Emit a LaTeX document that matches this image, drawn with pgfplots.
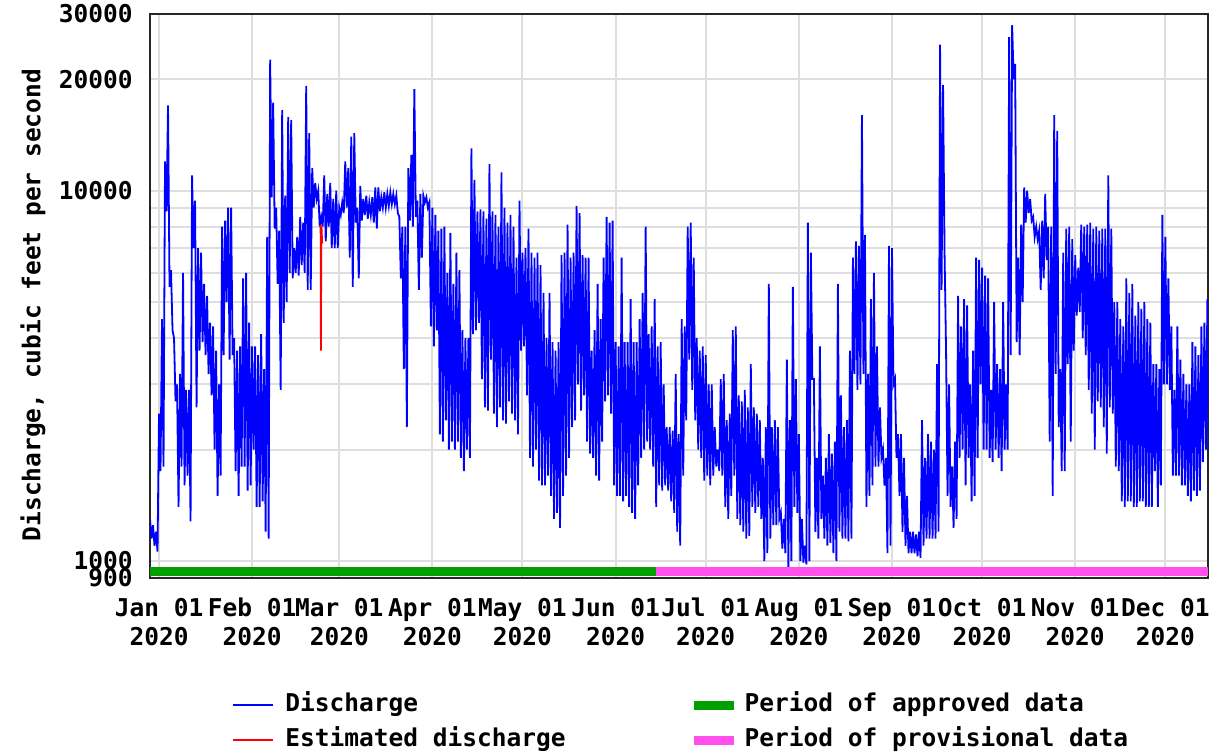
\documentclass[border=0pt]{standalone}
\usepackage{pgfplots}
\pgfplotsset{compat=1.18}
\usepackage{fontspec}
\newfontfamily\chartfont{DejaVu Sans Mono}
\newcommand{\cf}{\chartfont\bfseries\fontsize{12.25pt}{14.5pt}\selectfont}
\definecolor{qblue}{RGB}{0,0,255}
\definecolor{qred}{RGB}{255,0,0}
\definecolor{qgreen}{RGB}{0,160,0}
\definecolor{qmag}{RGB}{255,80,235}
\definecolor{qgrid}{RGB}{222,222,222}
\pgfplotsset{barlegend/.style={legend image code/.code={\fill[##1, draw=none] (0pt,-2.125pt) rectangle (20pt,2.125pt);}}}
\begin{document}
\begin{tikzpicture}
\useasboundingbox (0,0) rectangle (615pt,-376pt);
\begin{axis}[
  at={(75pt,-289pt)}, anchor=south west,
  scale only axis, width=529pt, height=282pt,
  ymode=log, xmin=-3, xmax=349.2, ymin=900, ymax=30000,
  xtick={0,31,60,91,121,152,182,213,244,274,305,335},
  xticklabels={{\strut Jan 01\\\strut 2020},{\strut Feb 01\\\strut 2020},{\strut Mar 01\\\strut 2020},{\strut Apr 01\\\strut 2020},{\strut May 01\\\strut 2020},{\strut Jun 01\\\strut 2020},{\strut Jul 01\\\strut 2020},{\strut Aug 01\\\strut 2020},{\strut Sep 01\\\strut 2020},{\strut Oct 01\\\strut 2020},{\strut Nov 01\\\strut 2020},{\strut Dec 01\\\strut 2020}},
  ytick={900,1000,10000,20000,30000},
  yticklabels={900,1000,10000,20000,30000},
  minor ytick={2000,3000,4000,5000,6000,7000,8000,9000},
  grid=both,
  major grid style={qgrid, line width=1pt},
  minor grid style={qgrid, line width=1pt},
  tick style={draw=none},
  axis line style={black!85, line width=1pt},
  xticklabel style={font=\cf, align=center, inner sep=0pt, anchor=north, yshift=-8.85pt},
  yticklabel style={font=\cf, anchor=east, inner sep=0pt, xshift=-8.5pt},
  ylabel={Discharge, cubic feet per second},
  ylabel style={font=\cf, at={(axis description cs:-0.1106,0.484)}, anchor=center},
  legend columns=2, transpose legend, legend cell align=left,
  legend image code/.code={\draw[#1, line width=1pt] (0pt,0pt) -- (20pt,0pt);},
  legend style={draw=none, fill=none, inner sep=0pt, font=\cf,
    at={(axis description cs:0.0775,-0.2039)}, anchor=north west,
    nodes={inner sep=0pt, text height=9pt, text depth=3pt},
    row sep=5.5pt,
    /tikz/every odd column/.append style={column sep=5.5pt},
    /tikz/every even column/.append style={column sep=64pt}},
]
\addplot[qblue, line width=0.9pt] coordinates {
(-3,1300)(-2.5,1150)(-2,1250)(-1.5,1100)(-1,1200)(-0.5,1060)
(0,2500)(0.5,1750)(1,4500)(1.5,1800)(2,12000)(2.5,8800)(3,17000)(3.5,5500)(4,6100)(4.5,4200)(5,4000)(5.5,2700)(6,3000)(6.5,1400)(7,3200)(7.5,1800)(8,6000)(8.5,1600)(9,2900)(9.5,1700)
(10,2900)(10.5,1280)(11,11000)(11.5,7000)(12,9400)(12.5,2600)(13,7000)(13.5,3700)(14,6800)(14.5,3900)(15,5600)(15.5,3600)(16,5200)(16.5,3200)(17,4400)(17.5,2800)(18,4300)(18.5,2000)(19,3700)(19.5,1500)
(20,3000)(20.5,1700)(21,8000)(21.5,3600)(22,8300)(22.5,5000)(23,9000)(23.5,3500)(24,9000)(24.5,3600)(25,4000)(25.5,1750)(26,3700)(26.5,1500)(27,3800)(27.5,1800)(28,5800)(28.5,1800)(29,6000)(29.5,1550)
(30,4400)(30.5,1600)(31,3800)(31.5,2000)(32,3800)(32.5,1400)(33,3600)(33.5,1400)(34,4100)(34.5,1450)(35,3300)(35.5,1200)(36,7500)(36.5,1150)(37,22600)(37.5,9600)(38,17300)(38.5,7900)(39,9000)(39.5,5600)
(40,7800)(40.5,2900)(41,16500)(41.5,4400)(42,9700)(42.5,5000)(43,15800)(43.5,6000)(44,15500)(44.5,5800)(45,7000)(45.5,6000)(46,7500)(46.5,5900)(47,8500)(47.5,6300)(48,8200)(48.5,6000)(49,19200)(49.5,5400)
(50,14300)(50.5,5400)(51,11500)(51.5,9000)(52,10500)(52.5,9500)(53,10000)(53.5,8000)(54,8500)(54.5,8000)(55,11000)(55.5,7300)(56,9800)(56.5,8000)(57,10500)(57.5,7000)(58,9500)(58.5,7000)(59,10000)(59.5,7000)
(60,9000)(60.5,8600)(61,9300)(61.5,8700)(62,12000)(62.5,9000)(63,11500)(63.5,6600)(64,14000)(64.5,5500)(65,14300)(65.5,8200)(66,9000)(66.5,5800)(67,10300)(67.5,8300)(68,9500)(68.5,8600)(69,9700)(69.5,8400)
(70,9300)(70.5,8600)(71,9600)(71.5,8200)(72,10200)(72.5,7900)(73,10200)(73.5,8800)(74,9600)(74.5,9000)(75,9900)(75.5,9000)(76,9800)(76.5,9100)(77,9900)(77.5,9200)(78,9800)(78.5,9200)(79,9700)(79.5,8700)
(80,8500)(80.5,5800)(81,8000)(81.5,3300)(82,8000)(82.5,2300)(83,11500)(83.5,8300)(84,12500)(84.5,8000)(85,18800)(85.5,8500)(86,9400)(86.5,5400)(87,9800)(87.5,6600)(88,9700)(88.5,9300)(89,9600)(89.5,9000)
(90,9300)(90.5,4300)(91,9000)(91.5,3800)(92,8600)(92.5,4200)(93,7800)(93.5,2200)(94,7900)(94.5,2100)(95,8000)(95.5,2400)(96,6000)(96.5,2000)(97,7700)(97.5,2100)(98,5600)(98.5,2000)(99,6800)(99.5,2100)
(100,6100)(100.5,1900)(101,4200)(101.5,1750)(102,4000)(102.5,2000)(103,4000)(103.5,1900)(104,13000)(104.5,4100)(105,10700)(105.5,4200)(106,8800)(106.5,4400)(107,8900)(107.5,3100)(108,8800)(108.5,2600)(109,8400)(109.5,2550)
(110,11800)(110.5,3500)(111,8800)(111.5,2500)(112,8600)(112.5,2300)(113,8000)(113.5,2600)(114,11200)(114.5,2400)(115,9000)(115.5,2350)(116,8200)(116.5,2700)(117,8600)(117.5,2500)(118,8000)(118.5,2400)(119,6600)(119.5,2200)
(120,9400)(120.5,3700)(121,6800)(121.5,3800)(122,7000)(122.5,2800)(123,7900)(123.5,1900)(124,6800)(124.5,1800)(125,6600)(125.5,2000)(126,6800)(126.5,1650)(127,6300)(127.5,1600)(128,5300)(128.5,1600)(129,4000)(129.5,1700)
(130,5300)(130.5,1500)(131,3900)(131.5,1300)(132,3700)(132.5,1350)(133,3900)(133.5,1230)(134,6700)(134.5,1500)(135,6800)(135.5,1700)(136,8100)(136.5,1900)(137,6600)(137.5,2300)(138,6800)(138.5,2400)(139,9100)(139.5,3000)
(140,8700)(140.5,2550)(141,6700)(141.5,2800)(142,6600)(142.5,2100)(143,6600)(143.5,1950)(144,3700)(144.5,1900)(145,4200)(145.5,1700)(146,5600)(146.5,1650)(147,4500)(147.5,2100)(148,6600)(148.5,2700)(149,8500)(149.5,2800)
(150,8200)(150.5,2500)(151,8300)(151.5,1600)(152,3900)(152.5,1500)(153,3800)(153.5,1500)(154,6600)(154.5,1450)(155,3900)(155.5,1500)(156,3900)(156.5,1400)(157,5100)(157.5,1350)(158,3900)(158.5,1300)(159,3900)(159.5,1600)
(160,4500)(160.5,1900)(161,5300)(161.5,2000)(162,8000)(162.5,2100)(163,4100)(163.5,2000)(164,4300)(164.5,1800)(165,5100)(165.5,1400)(166,3800)(166.5,1600)(167,3900)(167.5,1550)(168,3000)(168.5,1600)(169,2300)(169.5,1550)
(170,2300)(170.5,1450)(171,2250)(171.5,1350)(172,3200)(172.5,1200)(173,2200)(173.5,1100)(174,4500)(174.5,1700)(175,4300)(175.5,2400)(176,8000)(176.5,3500)(177,8200)(177.5,2900)(178,6600)(178.5,2400)(179,4000)(179.5,2000)
(180,3700)(180.5,1900)(181,3800)(181.5,1650)(182,3600)(182.5,1700)(183,3000)(183.5,1600)(184,3000)(184.5,1700)(185,2300)(185.5,1800)(186,2000)(186.5,1750)(187,3100)(187.5,1700)(188,3200)(188.5,1400)(189,2400)(189.5,1300)
(190,2500)(190.5,1500)(191,4200)(191.5,1700)(192,4300)(192.5,1300)(193,2800)(193.5,1250)(194,2700)(194.5,1200)(195,2900)(195.5,1150)(196,2600)(196.5,1170)(197,3400)(197.5,1400)(198,2600)(198.5,1350)(199,2500)(199.5,1400)
(200,2400)(200.5,1300)(201,1900)(201.5,1000)(202,2300)(202.5,1050)(203,5600)(203.5,1150)(204,2300)(204.5,1250)(205,2400)(205.5,1250)(206,2300)(206.5,1300)(207,1350)(207.5,1080)(208,1300)(208.5,1050)(209,3500)(209.5,960)
(210,2400)(210.5,1000)(211,5500)(211.5,1400)(212,3100)(212.5,1350)(213,2200)(213.5,1000)(214,1300)(214.5,990)(215,1100)(215.5,980)(216,8200)(216.5,1000)(217,6800)(217.5,3100)(218,3100)(218.5,1200)(219,1900)(219.5,1150)
(220,3800)(220.5,1300)(221,1700)(221.5,1150)(222,1900)(222.5,1100)(223,2200)(223.5,1120)(224,1950)(224.5,1050)(225,2100)(225.5,1000)(226,5600)(226.5,1200)(227,2800)(227.5,1150)(228,2300)(228.5,1150)(229,2400)(229.5,1130)
(230,3700)(230.5,1150)(231,6600)(231.5,3200)(232,7300)(232.5,2900)(233,7100)(233.5,3000)(234,16000)(234.5,3200)(235,7600)(235.5,1400)(236,3200)(236.5,1500)(237,5100)(237.5,1600)(238,6000)(238.5,1800)(239,3800)(239.5,1800)
(240,2600)(240.5,1900)(241,2000)(241.5,1600)(242,1900)(242.5,1050)(243,7100)(243.5,1100)(244,7000)(244.5,3000)(245,3100)(245.5,1900)(246,2200)(246.5,1500)(247,2200)(247.5,1200)(248,1900)(248.5,1100)(249,1500)(249.5,1050)
(250,1200)(250.5,1050)(251,1200)(251.5,1050)(252,1180)(252.5,1030)(253,1200)(253.5,1020)(254,2400)(254.5,1100)(255,1900)(255.5,1150)(256,2200)(256.5,1150)(257,2100)(257.5,1150)(258,2000)(258.5,1150)(259,3400)(259.5,1200)
(260,24800)(260.5,5400)(261,19300)(261.5,6800)(262,3700)(262.5,1500)(263,3000)(263.5,1400)(264,1800)(264.5,1230)(265,2100)(265.5,1300)(266,5200)(266.5,1900)(267,4300)(267.5,2000)(268,5100)(268.5,1600)(269,4900)(269.5,1900)
(270,3000)(270.5,1450)(271,3700)(271.5,1500)(272,6600)(272.5,1900)(273,6500)(273.5,3000)(274,6200)(274.5,2000)(275,5900)(275.5,2000)(276,5800)(276.5,1900)(277,2900)(277.5,1850)(278,5000)(278.5,2000)(279,3400)(279.5,1900)
(280,3300)(280.5,1750)(281,5000)(281.5,2000)(282,3000)(282.5,2000)(283,26000)(283.5,3600)(284,28000)(284.5,20000)(285,22000)(285.5,3900)(286,6600)(286.5,3600)(287,8100)(287.5,5000)(288,10200)(288.5,8200)(289,10000)(289.5,8700)
(290,9500)(290.5,8300)(291,8500)(291.5,7500)(292,8000)(292.5,7400)(293,7800)(293.5,5400)(294,8300)(294.5,5800)(295,9800)(295.5,6500)(296,8000)(296.5,2100)(297,8000)(297.5,1500)(298,16000)(298.5,3200)(299,14500)(299.5,2300)
(300,3300)(300.5,1750)(301,6800)(301.5,1750)(302,7900)(302.5,3400)(303,8000)(303.5,2100)(304,7400)(304.5,3700)(305,6700)(305.5,4600)(306,6200)(306.5,4700)(307,8100)(307.5,4000)(308,8000)(308.5,3600)(309,8100)(309.5,2900)
(310,8200)(310.5,2500)(311,7900)(311.5,2000)(312,8000)(312.5,2700)(313,7800)(313.5,2600)(314,7900)(314.5,2300)(315,7900)(315.5,1950)(316,11000)(316.5,2600)(317,7900)(317.5,2500)(318,5000)(318.5,1800)(319,5000)(319.5,1750)
(320,4500)(320.5,1450)(321,4300)(321.5,1400)(322,5800)(322.5,1450)(323,5300)(323.5,1450)(324,5600)(324.5,1400)(325,4600)(325.5,1400)(326,5000)(326.5,1450)(327,4800)(327.5,1450)(328,5000)(328.5,1400)(329,4500)(329.5,1400)
(330,4400)(330.5,1400)(331,3400)(331.5,1750)(332,3400)(332.5,1400)(333,3300)(333.5,1600)(334,8600)(334.5,3000)(335,7500)(335.5,3000)(336,5800)(336.5,2900)(337,4300)(337.5,1700)(338,2900)(338.5,1700)(339,4300)(339.5,1700)
(340,3500)(340.5,1600)(341,3200)(341.5,1600)(342,3000)(342.5,1500)(343,3000)(343.5,1450)(344,3900)(344.5,1550)(345,3800)(345.5,1500)(346,3600)(346.5,1550)(347,4300)(347.5,1850)(348,4400)(348.5,2000)(349,5100)(349.5,2000)
};
\addlegendentry{Discharge}
\addplot[qred, line width=0.9pt] coordinates {(53.8,8100)(53.9,3700)(54.0,7000)(54.1,8000)(54.3,7200)};
\addlegendentry{Estimated discharge}
\addplot[qgreen, line width=4.25pt, barlegend] coordinates {(-3,937)(165.3,937)};
\addlegendentry{Period of approved data}
\addplot[qmag, line width=4.25pt, barlegend] coordinates {(165.3,937)(349.2,937)};
\addlegendentry{Period of provisional data}
\end{axis}
\end{tikzpicture}
\end{document}
